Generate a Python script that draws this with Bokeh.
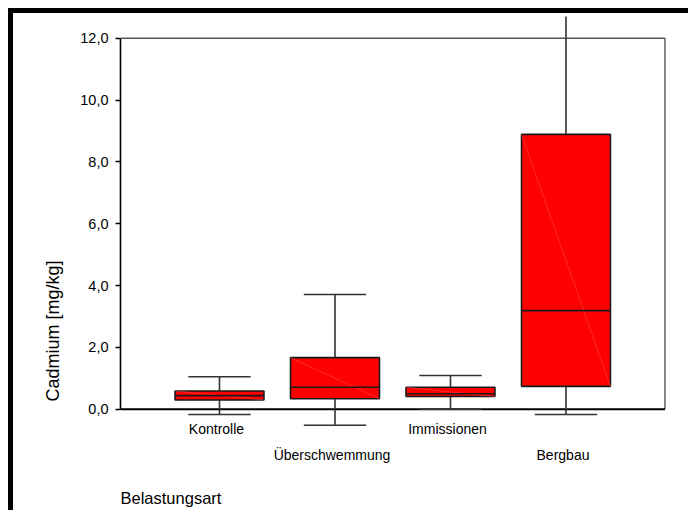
from bokeh.plotting import figure
from bokeh.models import LinearAxis, FixedTicker, Range1d, ColumnDataSource
from bokeh.core.properties import value
from bokeh.embed import file_html
from bokeh.resources import INLINE

# ---- data ----
categories = ["Kontrolle", "Überschwemmung", "Immissionen", "Bergbau"]
whisker_low = [-0.17, -0.52, 0.0, -0.17]
q1 = [0.30, 0.34, 0.41, 0.74]
median = [0.44, 0.71, 0.50, 3.19]
q3 = [0.59, 1.67, 0.71, 8.89]
whisker_high = [1.05, 3.71, 1.09, 12.8]
y_ticks = [0, 2, 4, 6, 8, 10, 12]
y_tick_labels = ["0,0", "2,0", "4,0", "6,0", "8,0", "10,0", "12,0"]
x_title = "Belastungsart"
y_title = "Cadmium [mg/kg]"

# ---- layout / style ----
FONT = "Liberation Sans"
BOX_W, CAP_W, PAD = 0.77, 0.54, 0.857
PX, PY = 115.5, 30.92          # pixels per data unit
W, H = 680, 502                # element incl. 5px css border (border-box)
ML, MT = 107, 3
frame_w, frame_h = W - ML, H - MT

n = len(categories)
xs = [i + 1 for i in range(n)]
x_start = 1 - PAD
x_end = x_start + frame_w / PX
y_end = y_ticks[-1] + 21.7 / PY
y_start = y_end - frame_h / PY
box_left, box_right = 1 - PAD, n + PAD

p = figure(width=W, height=H, output_backend="svg", toolbar_location=None,
           x_axis_type=None, y_axis_type=None,
           x_range=Range1d(x_start, x_end), y_range=Range1d(y_start, y_end),
           min_border=0, min_border_left=ML, min_border_top=MT,
           min_border_right=0, min_border_bottom=0)
p.outline_line_color = None
p.xgrid.visible = False
p.ygrid.visible = False
p.background_fill_color = "white"
p.border_fill_color = "white"
p.styles = {"border-left": "5px solid black", "border-top": "5px solid black",
            "margin-left": "8px", "margin-top": "8px"}

NBSP = "\u00a0"
yaxis = LinearAxis(bounds=(y_ticks[0], y_ticks[-1]), ticker=FixedTicker(ticks=y_ticks))
yaxis.major_label_overrides = {t: l for t, l in zip(y_ticks, y_tick_labels)}
yaxis.major_tick_out = 5
yaxis.major_tick_in = 0
yaxis.minor_tick_out = 0
yaxis.minor_tick_in = 0
yaxis.major_label_standoff = 7
yaxis.major_label_text_font = FONT
yaxis.major_label_text_font_size = "14.5px"
yaxis.major_label_text_color = "black"
yaxis.axis_line_color = "black"
yaxis.axis_line_width = 1.6
yaxis.major_tick_line_color = "black"
yaxis.major_tick_line_width = 1.3
# trailing no-break spaces shift the visible title down along the axis
yaxis.axis_label = y_title + NBSP * 26
yaxis.axis_label_standoff = 14
yaxis.axis_label_text_font = FONT
yaxis.axis_label_text_font_size = "18px"
yaxis.axis_label_text_font_style = "normal"
yaxis.axis_label_text_color = "black"
p.add_layout(yaxis, "left")

# frame lines (top, right, bottom)
p.segment(x0=[box_left, box_right, box_left], y0=[y_ticks[-1], y_ticks[-1], 0],
          x1=[box_right, box_right, box_right], y1=[y_ticks[-1], 0, 0],
          line_color=["#555555", "#555555", "black"], line_width=[1.4, 1.4, 1.8])

src = ColumnDataSource(dict(
    x=xs, lo=whisker_low, q1=q1, med=median, q3=q3, hi=whisker_high,
    cl=[x - CAP_W / 2 for x in xs], cr=[x + CAP_W / 2 for x in xs],
    bl=[x - BOX_W / 2 for x in xs], br=[x + BOX_W / 2 for x in xs],
))

WH = "#333333"
p.segment(x0="x", y0="q3", x1="x", y1="hi", source=src, line_color=WH, line_width=1.6)
p.segment(x0="x", y0="lo", x1="x", y1="q1", source=src, line_color=WH, line_width=1.6)
p.segment(x0="cl", y0="hi", x1="cr", y1="hi", source=src, line_color=WH, line_width=1.6)
p.segment(x0="cl", y0="lo", x1="cr", y1="lo", source=src, line_color=WH, line_width=1.6)
p.vbar(x="x", width=BOX_W, bottom="q1", top="q3", source=src,
       fill_color="#ff0000", line_color="#1a1a1a", line_width=1.6)
p.segment(x0="bl", y0="q3", x1="br", y1="q1", source=src, line_color="#ff5050", line_width=0.5)
p.segment(x0="bl", y0="med", x1="br", y1="med", source=src, line_color="#1a1a1a", line_width=1.6)

# category labels (staggered)
lab_src = ColumnDataSource(dict(
    x=xs, y=[0] * n, text=categories,
    yo=[19.6 if i % 2 == 0 else 45.8 for i in range(n)],
))
p.text(x="x", y="y", text="text", source=lab_src, x_offset=-3, y_offset="yo",
       text_align="center", text_baseline="alphabetic",
       text_font=value(FONT), text_font_size="14px", text_color="black")

# x title
p.text(x=[box_left], y=[0], text=[x_title], y_offset=88.6, text_align="left",
       text_baseline="alphabetic", text_font=value(FONT), text_font_size="16.5px",
       text_color="black")

open("out.html", "w").write(file_html(p, INLINE))
